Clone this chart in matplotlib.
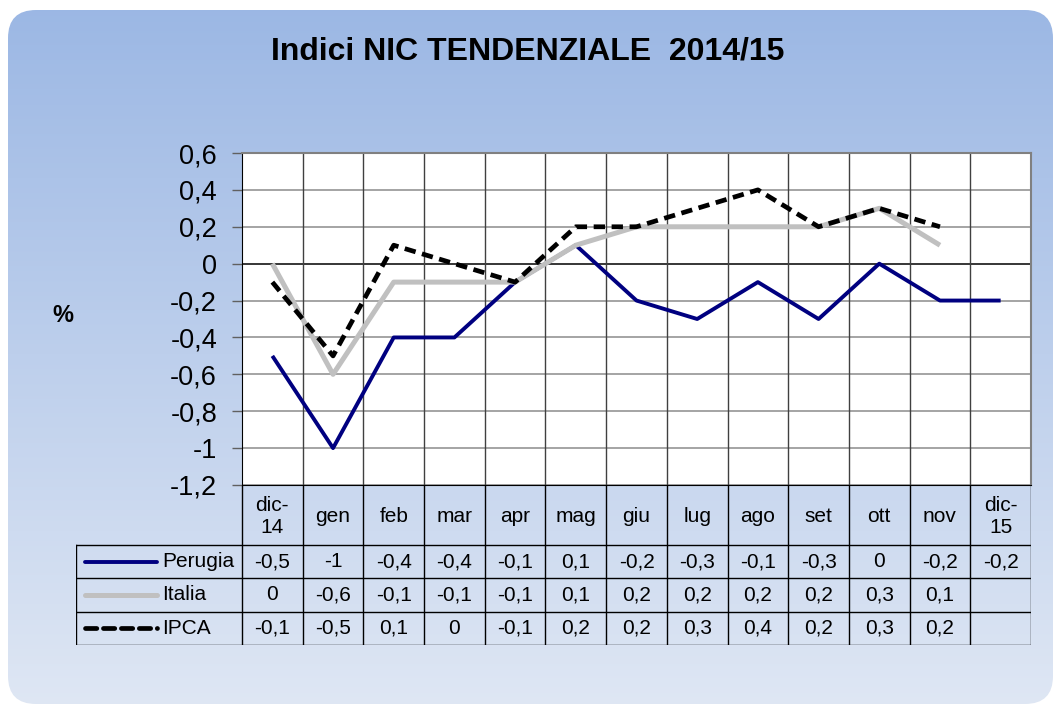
import numpy as np
import matplotlib
matplotlib.use("Agg")
import matplotlib.pyplot as plt
from matplotlib.patches import FancyBboxPatch

plt.rcParams["font.family"] = ["Liberation Sans", "DejaVu Sans"]

months = ["dic-\n14", "gen", "feb", "mar", "apr", "mag", "giu", "lug", "ago",
          "set", "ott", "nov", "dic-\n15"]
perugia = [-0.5, -1, -0.4, -0.4, -0.1, 0.1, -0.2, -0.3, -0.1, -0.3, 0, -0.2, -0.2]
italia = [0, -0.6, -0.1, -0.1, -0.1, 0.1, 0.2, 0.2, 0.2, 0.2, 0.3, 0.1, None]
ipca = [-0.1, -0.5, 0.1, 0, -0.1, 0.2, 0.2, 0.3, 0.4, 0.2, 0.3, 0.2, None]
yticks = [0.6, 0.4, 0.2, 0, -0.2, -0.4, -0.6, -0.8, -1, -1.2]

series = [("Perugia", perugia, dict(color="#000080", lw=2.8, ls="-")),
          ("Italia", italia, dict(color="#C0C0C0", lw=3.6, ls="-")),
          ("IPCA", ipca, dict(color="black", lw=3.4, ls=(0, (2.4, 1.4))))]

W, H = 1055, 709
fig = plt.figure(figsize=(W / 100, H / 100), dpi=100)


def fmt(v):
    if v is None:
        return ""
    return ("%g" % v).replace(".", ",")


# background panel with gradient
bg = fig.add_axes([0, 0, 1, 1])
bg.set_xlim(0, W)
bg.set_ylim(H, 0)
bg.axis("off")
top = np.array([155, 183, 228]) / 255
bot = np.array([223, 231, 244]) / 255
t = np.linspace(0, 1, 256)[:, None, None]
grad = np.repeat(top * (1 - t) + bot * t, 2, axis=1)
im = bg.imshow(grad, extent=[0, W, H, 0], aspect="auto", zorder=0)
panel = FancyBboxPatch((8, 10), W - 10, H - 15, boxstyle="round,pad=0,rounding_size=28",
                       transform=bg.transData, facecolor="none", edgecolor="none")
bg.add_patch(panel)
im.set_clip_path(panel)

fig.text(0.5, 1 - 52 / H, "Indici NIC TENDENZIALE  2014/15", ha="center", va="center",
         fontsize=23, fontweight="bold")
fig.text(63 / W, 1 - 316 / H, "%", ha="center", va="center", fontsize=17, fontweight="bold")

# plot area
x0, x1, y0, y1 = 242, 1031, 153, 485
ax = fig.add_axes([x0 / W, 1 - y1 / H, (x1 - x0) / W, (y1 - y0) / H])
ax.set_facecolor("white")
ax.set_xlim(-0.5, len(months) - 0.5)
ax.set_ylim(-1.2, 0.6)
for yv in yticks:
    ax.axhline(yv, color="black" if yv == 0 else "#8C8C8C", lw=1.1, zorder=1)
for k in range(len(months) - 1):
    ax.axvline(k + 0.5, color="#404040", lw=1, zorder=1)
for name, vals, st in series:
    xs = [i for i, v in enumerate(vals) if v is not None]
    ys = [v for v in vals if v is not None]
    ax.plot(xs, ys, zorder=3, solid_capstyle="butt", dash_capstyle="butt", **st)
ax.set_yticks(yticks)
ax.set_yticklabels([fmt(v) for v in yticks], fontsize=19.5)
ax.tick_params(axis="y", direction="out", length=7, width=1, pad=11, color="#606060")
ax.set_xticks([])
for s in ["top", "right"]:
    ax.spines[s].set_color("#808080")
    ax.spines[s].set_linewidth(1.5)
ax.spines["left"].set_color("black")
ax.spines["bottom"].set_color("black")

# data table below
tl, tr, tt, tb = 76, 1031, 486, 645
header_h = 59
row_h = (tb - tt - header_h) / 3
lab_w = (x0 - tl) / ((x1 - x0) / len(months))
tab = fig.add_axes([tl / W, 1 - tb / H, (tr - tl) / W, (tb - tt) / H])
tab.set_xlim(-0.5 - lab_w, len(months) - 0.5)
tab.set_ylim(tb - tt, 0)
tab.axis("off")
lk = dict(color="black", lw=1)
for k in range(len(months) + 1):
    tab.plot([k - 0.5, k - 0.5], [0, tb - tt], **lk)
tab.plot([-0.5 - lab_w, -0.5 - lab_w], [header_h, tb - tt], **lk)
for r in range(4):
    yy = header_h + r * row_h
    tab.plot([-0.5 - lab_w, len(months) - 0.5], [yy, yy], **lk)
for i, m in enumerate(months):
    tab.text(i, header_h / 2 + 1, m, ha="center", va="center", fontsize=15, linespacing=1.15)
for r, (name, vals, st) in enumerate(series):
    yc = header_h + (r + 0.5) * row_h
    for i, v in enumerate(vals):
        tab.text(i, yc, fmt(v), ha="center", va="center", fontsize=15)
    tab.plot([-0.5 - lab_w + 0.15, -0.5 - lab_w + 1.33], [yc, yc], solid_capstyle="round",
             dash_capstyle="round", **st)
    tab.text(-0.5 - lab_w + 1.42, yc, name, ha="left", va="center", fontsize=15)

fig.savefig("out.png", dpi=100)
